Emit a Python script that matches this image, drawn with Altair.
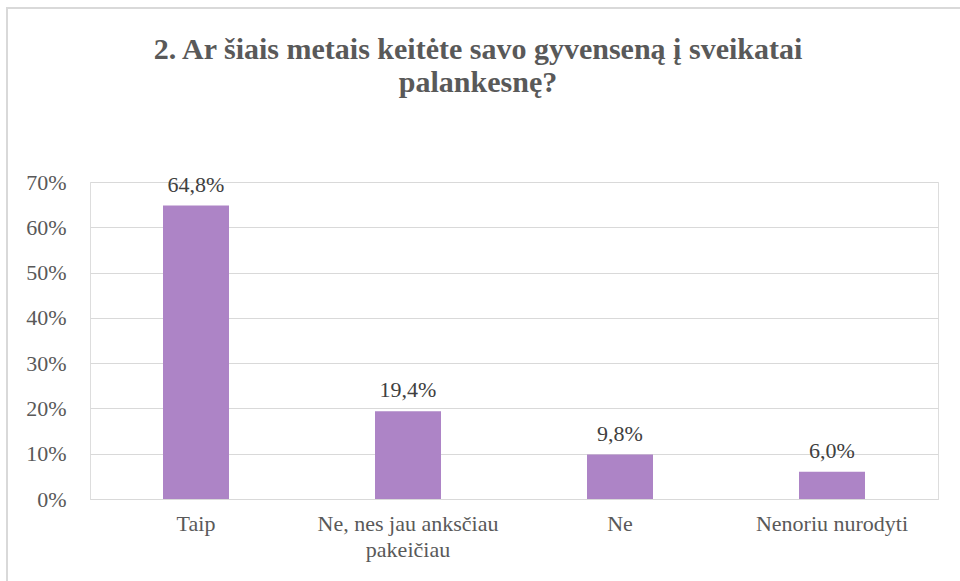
import altair as alt
import pandas as pd

categories = ["Taip", "Ne, nes jau anksčiau pakeičiau", "Ne", "Nenoriu nurodyti"]
values = [64.8, 19.4, 9.8, 6.0]
y_ticks = [0, 10, 20, 30, 40, 50, 60, 70]
title_text = "2. Ar šiais metais keitėte savo gyvenseną į sveikatai\npalankesnę?"

df = pd.DataFrame({"cat": categories, "value": values})
tdf = pd.DataFrame({"t": [title_text]})

FONT = "Liberation Serif"
GRAY = "#595959"
GRID = "#d9d9d9"

x_enc = alt.X(
    "cat:N",
    sort=categories,
    scale=alt.Scale(paddingInner=0, paddingOuter=0),
    axis=alt.Axis(
        title=None,
        labelAngle=0,
        labelFont=FONT,
        labelFontSize=22,
        labelColor=GRAY,
        labelPadding=14,
        labelLineHeight=26,
        labelBaseline="top",
        labelLimit=0,
        ticks=False,
        domainColor=GRID,
        domainWidth=1,
        labelExpr="datum.label == 'Ne, nes jau anksčiau pakeičiau' ? ['Ne, nes jau anksčiau', 'pakeičiau'] : datum.label",
    ),
)
y_enc = alt.Y(
    "value:Q",
    scale=alt.Scale(domain=[0, 70], nice=False),
    axis=alt.Axis(
        title=None,
        values=y_ticks,
        labelExpr="datum.value + '%'",
        labelFont=FONT,
        labelFontSize=22,
        labelColor=GRAY,
        labelPadding=24,
        ticks=False,
        domain=False,
        gridColor=GRID,
        gridWidth=1,
    ),
)

bars = alt.Chart(df).mark_bar(size=66, color="#AD84C6").encode(x=x_enc, y=y_enc)

labels = (
    alt.Chart(df)
    .transform_calculate(txt="replace(format(datum.value, '.1f'), '.', ',') + '%'")
    .mark_text(font=FONT, fontSize=22, color="#404040", baseline="alphabetic", dy=-14)
    .encode(x=alt.X("cat:N", sort=categories), y="value:Q", text="txt:N")
)

title = alt.Chart(tdf).mark_text(
    font=FONT, fontSize=30, fontWeight="bold", color=GRAY,
    lineBreak="\n", lineHeight=33, align="center", baseline="alphabetic",
).encode(x=alt.value(388), y=alt.value(-123), text="t:N")

frame = alt.Chart(tdf).mark_rect(
    fill=None, stroke=GRID, strokeWidth=2, clip=False
).encode(
    x=alt.value(-83), x2=alt.value(1000), y=alt.value(-174), y2=alt.value(600)
)

chart = (
    alt.layer(frame, bars, labels, title)
    .properties(
        width=848,
        height=317,
        autosize=alt.AutoSizeParams(type="none"),
        padding={"left": 90, "top": 182, "right": 22, "bottom": 82},
    )
    .configure_view(stroke=None)
    .configure(background="white")
)

chart.save("out.html", embed_options={"renderer": "svg", "actions": False})
